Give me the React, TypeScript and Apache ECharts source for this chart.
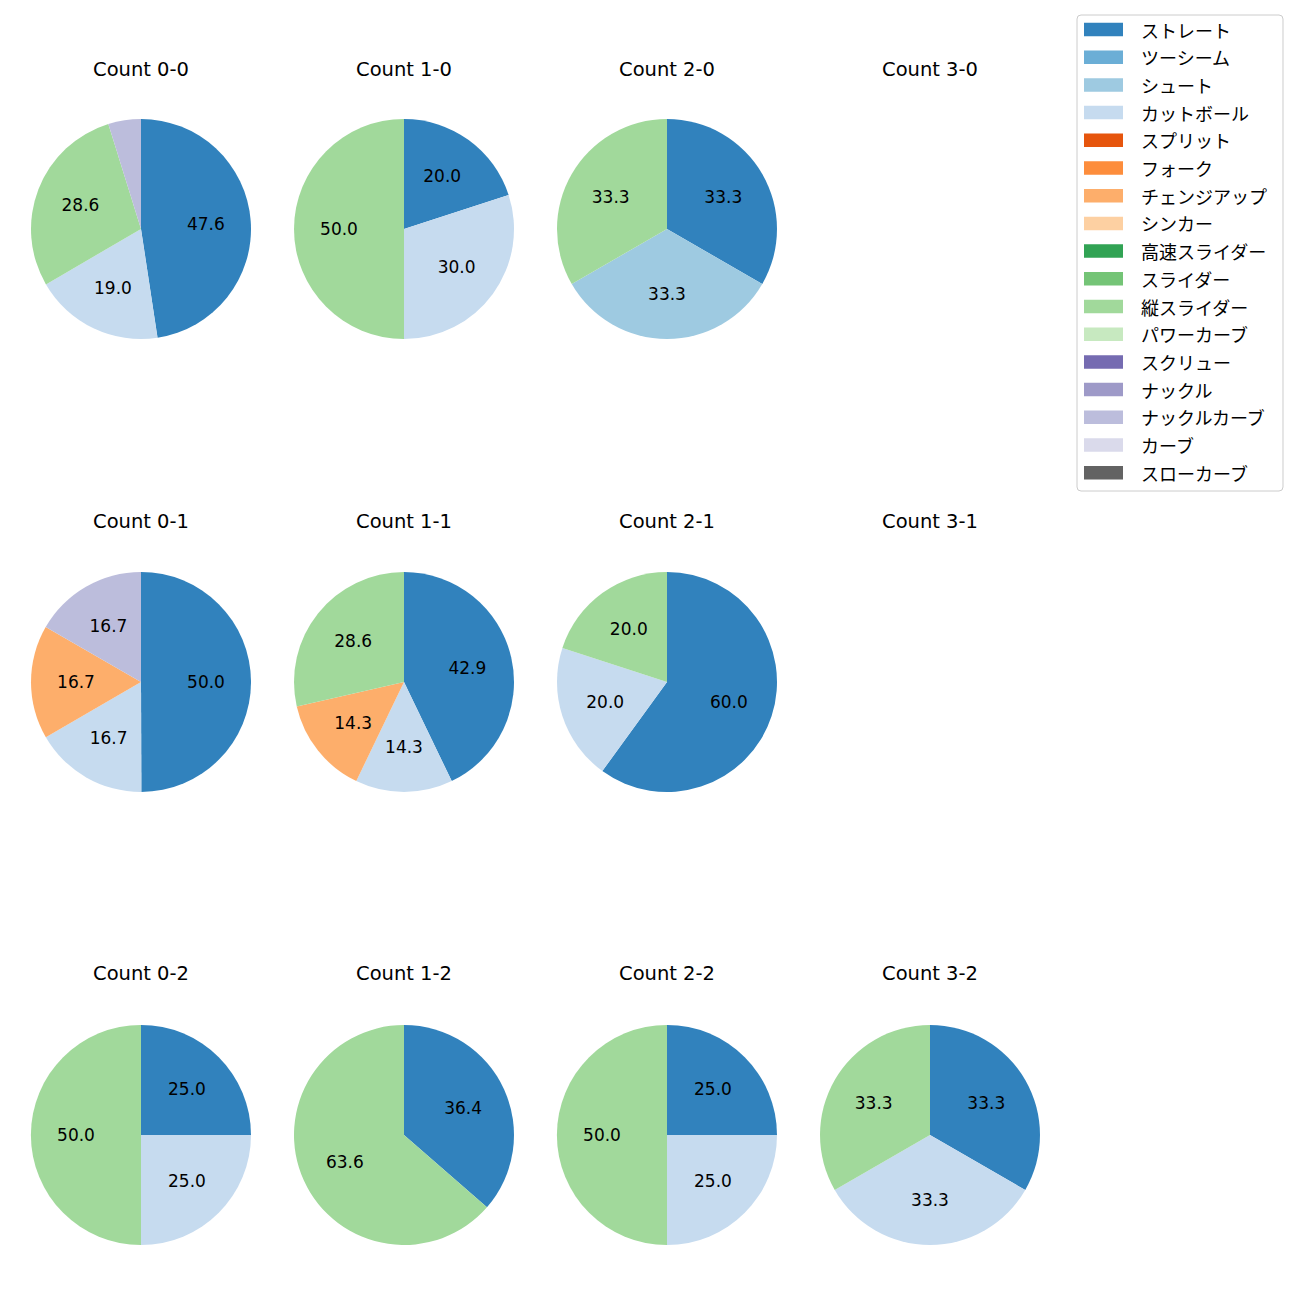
import React, { useEffect, useRef } from "react";
import * as echarts from "echarts";

const pitchTypes = [
  "ストレート", "ツーシーム", "シュート", "カットボール", "スプリット", "フォーク",
  "チェンジアップ", "シンカー", "高速スライダー", "スライダー", "縦スライダー",
  "パワーカーブ", "スクリュー", "ナックル", "ナックルカーブ", "カーブ", "スローカーブ",
];
const pitchColors = [
  "#3182bd", "#6baed6", "#9ecae1", "#c6dbef", "#e6550d", "#fd8d3c",
  "#fdae6b", "#fdd0a2", "#31a354", "#74c476", "#a1d99b", "#c7e9c0",
  "#756bb1", "#9e9ac8", "#bcbddc", "#dadaeb", "#636363",
];

const countTitles = [
  "Count 0-0", "Count 1-0", "Count 2-0", "Count 3-0",
  "Count 0-1", "Count 1-1", "Count 2-1", "Count 3-1",
  "Count 0-2", "Count 1-2", "Count 2-2", "Count 3-2",
];
// percentages per pitch type (order of pitchTypes)
const count00 = [47.6, 0, 0, 19.0, 0, 0, 0, 0, 0, 0, 28.6, 0, 0, 0, 4.8, 0, 0];
const count10 = [20.0, 0, 0, 30.0, 0, 0, 0, 0, 0, 0, 50.0, 0, 0, 0, 0, 0, 0];
const count20 = [33.3, 0, 33.3, 0, 0, 0, 0, 0, 0, 0, 33.3, 0, 0, 0, 0, 0, 0];
const count30: number[] = [];
const count01 = [50.0, 0, 0, 16.7, 0, 0, 16.7, 0, 0, 0, 0, 0, 0, 0, 16.7, 0, 0];
const count11 = [42.9, 0, 0, 14.3, 0, 0, 14.3, 0, 0, 0, 28.6, 0, 0, 0, 0, 0, 0];
const count21 = [60.0, 0, 0, 20.0, 0, 0, 0, 0, 0, 0, 20.0, 0, 0, 0, 0, 0, 0];
const count31: number[] = [];
const count02 = [25.0, 0, 0, 25.0, 0, 0, 0, 0, 0, 0, 50.0, 0, 0, 0, 0, 0, 0];
const count12 = [36.4, 0, 0, 0, 0, 0, 0, 0, 0, 0, 63.6, 0, 0, 0, 0, 0, 0];
const count22 = [25.0, 0, 0, 25.0, 0, 0, 0, 0, 0, 0, 50.0, 0, 0, 0, 0, 0, 0];
const count32 = [33.3, 0, 0, 33.3, 0, 0, 0, 0, 0, 0, 33.3, 0, 0, 0, 0, 0, 0];

const allCounts = [
  count00, count10, count20, count30,
  count01, count11, count21, count31,
  count02, count12, count22, count32,
];

const LATIN = "'DejaVu Sans', sans-serif";
const CJK = "'Noto Sans CJK JP', 'Noto Sans', sans-serif";

export default function App() {
  const ref = useRef<HTMLDivElement>(null);
  useEffect(() => {
    if (!ref.current) return;
    const chart = echarts.init(ref.current, null, { renderer: "svg" });
    const colX = [141, 404, 667, 930];
    const rowY = [229, 682, 1135];
    const titleY = [69, 521, 973];
    const R = 110;

    const titles: any[] = [];
    const series: any[] = [];
    allCounts.forEach((vals, i) => {
      const cx = colX[i % 4];
      const cy = rowY[Math.floor(i / 4)];
      titles.push({
        text: countTitles[i],
        left: cx,
        top: titleY[Math.floor(i / 4)] - 11,
        textAlign: "center",
        padding: 0,
        textStyle: { fontSize: 19.5, fontWeight: "normal", color: "#000", fontFamily: LATIN, lineHeight: 22 },
      });
      const data = vals
        .map((v, k) => ({ name: pitchTypes[k], value: v, itemStyle: { color: pitchColors[k] } }))
        .filter((d) => d.value > 0);
      if (data.length === 0) return;
      series.push({
        type: "pie",
        center: [cx, cy],
        radius: [0, R],
        startAngle: 90,
        clockwise: true,
        silent: true,
        label: { show: false },
        labelLine: { show: false },
        data,
      });
      series.push({
        type: "pie",
        center: [cx, cy],
        radius: [R * 0.2 - 4, R - 4],
        startAngle: 90,
        clockwise: true,
        silent: true,
        legendHoverLink: false,
        itemStyle: { color: "rgba(0,0,0,0)" },
        label: {
          show: true,
          position: "inside",
          color: "#000",
          fontSize: 17,
          fontFamily: LATIN,
          formatter: (p: any) => (p.value >= 5 ? Number(p.value).toFixed(1) : ""),
        },
        labelLine: { show: false },
        data: data.map((d) => ({ name: d.name, value: d.value, itemStyle: { color: "rgba(0,0,0,0)" } })),
      });
    });
    // legend carrier (zero radius)
    series.push({
      type: "pie",
      center: [-100, -100],
      radius: [0, 0],
      silent: true,
      label: { show: false },
      labelLine: { show: false },
      data: pitchTypes.map((n, k) => ({ name: n, value: 1, itemStyle: { color: pitchColors[k] } })),
    });

    chart.setOption({
      animation: false,
      backgroundColor: "#ffffff",
      title: titles,
      legend: {
        orient: "vertical",
        left: 1077,
        top: 15,
        padding: [5.5, 16, 9.3, 7],
        itemWidth: 39,
        itemHeight: 13.5,
        itemGap: 9.7,
        icon: "rect",
        selectedMode: false,
        backgroundColor: "#ffffff",
        borderColor: "#cccccc",
        borderWidth: 1,
        borderRadius: 4,
        data: pitchTypes,
        textStyle: { fontSize: 18, color: "#000", fontFamily: CJK, lineHeight: 18, padding: [0, 0, 0, 13] },
      },
      series,
    });
    return () => chart.dispose();
  }, []);
  return (
    <div
      ref={ref}
      style={{ position: "absolute", left: 0, top: 0, width: 1300, height: 1300 }}
    />
  );
}
